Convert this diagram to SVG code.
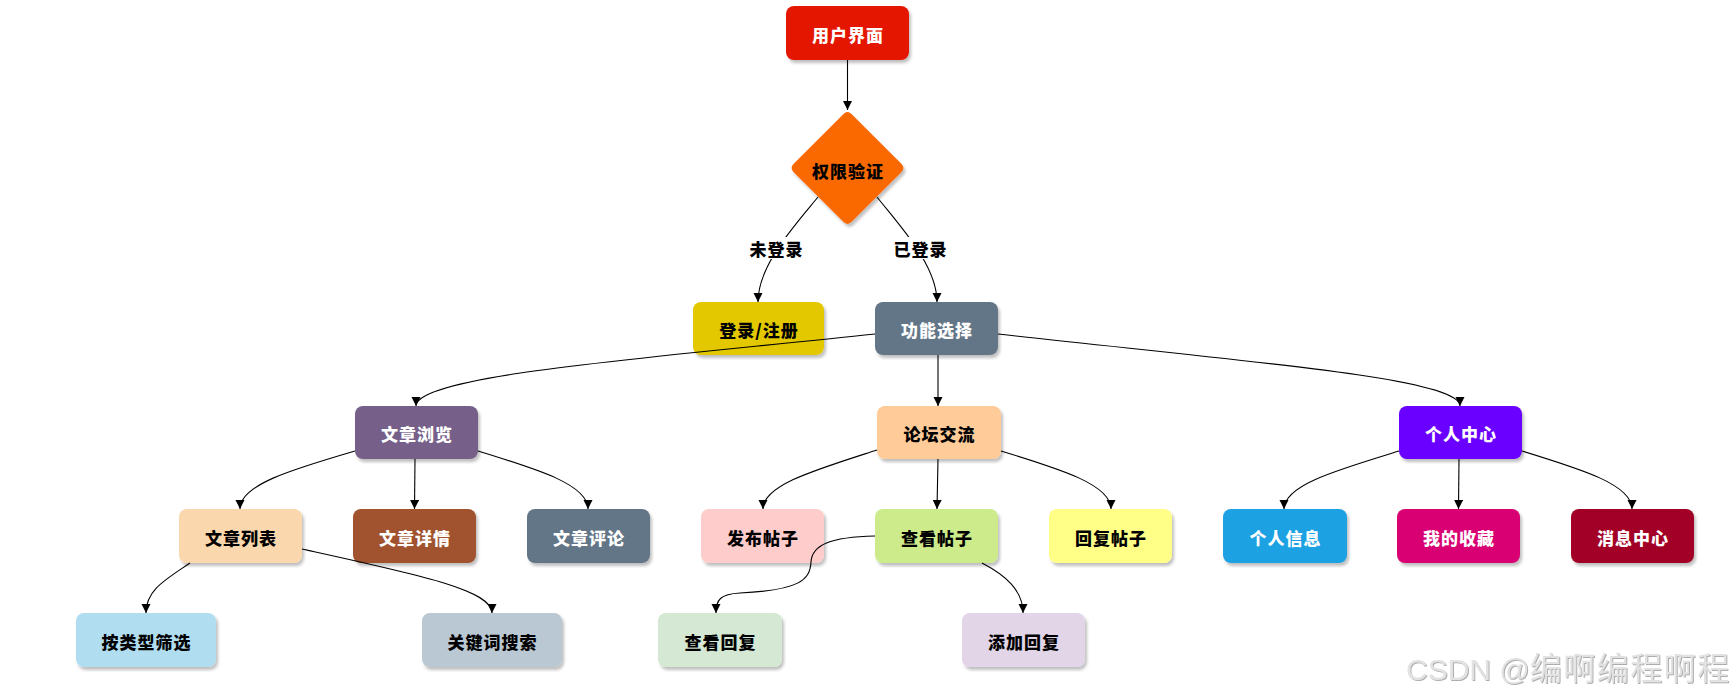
<svg xmlns="http://www.w3.org/2000/svg" width="1735" height="698" viewBox="0 0 1735 698">
<defs>
<filter id="sh" x="-10%" y="-10%" width="130%" height="140%">
<feDropShadow dx="2" dy="3" stdDeviation="1.6" flood-color="#000" flood-opacity="0.25"/>
</filter>
<filter id="wm" x="-5%" y="-20%" width="110%" height="150%">
<feDropShadow dx="1" dy="1" stdDeviation="0.6" flood-color="#999" flood-opacity="0.8"/>
</filter>
<marker id="a" markerUnits="userSpaceOnUse" markerWidth="10" markerHeight="10" refX="9" refY="4.5" orient="auto">
<path d="M0,0 L9,4.5 L0,9 z" fill="#000"/>
</marker>
</defs>
<style>
.n rect, .n path { filter: url(#sh); }
.t { font-family: "Noto Sans CJK SC", "Noto Sans", sans-serif; font-weight: 900; font-size: 17px; letter-spacing: 1px; text-anchor: middle; dominant-baseline: central; }
.w { fill: #ffffff; }
.b { fill: #000000; }
.e path { fill: none; stroke: #000; stroke-width: 1.1; marker-end: url(#a); }
.lbl { font-family: "Noto Sans CJK SC", "Noto Sans", sans-serif; font-weight: 900; font-size: 17px; letter-spacing: 1px; text-anchor: middle; dominant-baseline: central; fill: #000; }
</style>
<rect width="1735" height="698" fill="#ffffff"/>

<g id="n-user" class="n"><rect x="786" y="6" width="123" height="54" rx="8" fill="#e51400"/><text class="t w" x="848" y="34">用户界面</text></g>
<g id="n-auth" class="n"><path d="M851.7,114.2 L901.3,163.8 Q905.5,168 901.3,172.2 L851.7,221.8 Q847.5,226 843.3,221.8 L793.7,172.2 Q789.5,168 793.7,163.8 L843.3,114.2 Q847.5,110 851.7,114.2 Z" fill="#fa6800"/><text class="t b" x="848" y="170">权限验证</text></g>
<g id="n-login" class="n"><rect x="693" y="302" width="131" height="53" rx="8" fill="#e3c800"/><text class="t b" x="759" y="329">登录/注册</text></g>
<g id="n-func" class="n"><rect x="875" y="302" width="123" height="53" rx="8" fill="#647687"/><text class="t w" x="937" y="329">功能选择</text></g>
<g id="n-browse" class="n"><rect x="355" y="406" width="123" height="53" rx="8" fill="#76608a"/><text class="t w" x="417" y="433">文章浏览</text></g>
<g id="n-forum" class="n"><rect x="877" y="406" width="124" height="53" rx="8" fill="#ffcc99"/><text class="t b" x="939.5" y="433">论坛交流</text></g>
<g id="n-personal" class="n"><rect x="1399" y="406" width="123" height="53" rx="8" fill="#6a00ff"/><text class="t w" x="1461" y="433">个人中心</text></g>
<g id="n-list" class="n"><rect x="179" y="509" width="123" height="54" rx="8" fill="#fad7ac"/><text class="t b" x="241" y="537">文章列表</text></g>
<g id="n-detail" class="n"><rect x="353" y="509" width="123" height="54" rx="8" fill="#a0522d"/><text class="t w" x="415" y="537">文章详情</text></g>
<g id="n-comment" class="n"><rect x="527" y="509" width="123" height="54" rx="8" fill="#647687"/><text class="t w" x="589" y="537">文章评论</text></g>
<g id="n-post" class="n"><rect x="701" y="509" width="123" height="54" rx="8" fill="#ffcccc"/><text class="t b" x="763" y="537">发布帖子</text></g>
<g id="n-view" class="n"><rect x="875" y="509" width="123" height="54" rx="8" fill="#cdeb8b"/><text class="t b" x="937" y="537">查看帖子</text></g>
<g id="n-reply" class="n"><rect x="1049" y="509" width="123" height="54" rx="8" fill="#ffff88"/><text class="t b" x="1111" y="537">回复帖子</text></g>
<g id="n-info" class="n"><rect x="1223" y="509" width="124" height="54" rx="8" fill="#1ba1e2"/><text class="t w" x="1285.5" y="537">个人信息</text></g>
<g id="n-fav" class="n"><rect x="1397" y="509" width="123" height="54" rx="8" fill="#d80073"/><text class="t w" x="1459" y="537">我的收藏</text></g>
<g id="n-msg" class="n"><rect x="1571" y="509" width="123" height="54" rx="8" fill="#a20025"/><text class="t w" x="1633" y="537">消息中心</text></g>
<g id="n-filter" class="n"><rect x="76" y="613" width="140" height="54" rx="8" fill="#b1ddf0"/><text class="t b" x="146.5" y="641">按类型筛选</text></g>
<g id="n-search" class="n"><rect x="422" y="613" width="140" height="54" rx="8" fill="#bac8d3"/><text class="t b" x="492.5" y="641">关键词搜索</text></g>
<g id="n-viewreply" class="n"><rect x="658" y="613" width="124" height="54" rx="8" fill="#d5e8d4"/><text class="t b" x="720.5" y="641">查看回复</text></g>
<g id="n-addreply" class="n"><rect x="962" y="613" width="123" height="54" rx="8" fill="#e1d5e7"/><text class="t b" x="1024" y="641">添加回复</text></g>

<g id="connectors" class="e">
<path d="M847.5,60 L847.5,110"/>
<path d="M818,197 C795,225 758,265 758,302"/>
<path d="M877,197 C899,225 937,265 937,302"/>
<path d="M875,334 C650,358 416,375 416,406"/>
<path d="M938,355 L938,406"/>
<path d="M998,334 C1250,362 1460,378 1460,406"/>
<path d="M355,451 C290,470 240,485 240,509"/>
<path d="M415,459 L414.5,509"/>
<path d="M478,451 C540,470 588,485 588,509"/>
<path d="M877,450 C815,470 763,485 763,509"/>
<path d="M938,459 L937,509"/>
<path d="M1001,451 C1063,470 1111,485 1111,509"/>
<path d="M1399,451 C1337,470 1284,485 1284,509"/>
<path d="M1459,459 L1458.5,509"/>
<path d="M1522,451 C1584,470 1632,485 1632,509"/>
<path d="M190,563 C165,580 146,590 146,613"/>
<path d="M302,549 C420,575 492,590 492,613"/>
<path d="M875,536 C830,537 812,545 811,562 C810,580 800,590 740,593 C720,594 716,600 716,613"/>
<path d="M982,563 C1005,575 1023,590 1023,613"/>
</g>

<g id="edge-labels">
<rect x="747" y="237" width="58" height="22" fill="#ffffff"/>
<text class="lbl" x="776.5" y="248">未登录</text>
<rect x="891" y="237" width="58" height="22" fill="#ffffff"/>
<text class="lbl" x="920.5" y="248">已登录</text>
</g>

<text x="1406" y="680" filter="url(#wm)" fill="#e2e2e2" font-family="Liberation Sans, Noto Sans CJK SC, sans-serif" font-size="30">CSDN @<tspan font-family="Noto Sans CJK SC, sans-serif" font-size="32" letter-spacing="1.5">编啊编程啊程</tspan></text>
</svg>
